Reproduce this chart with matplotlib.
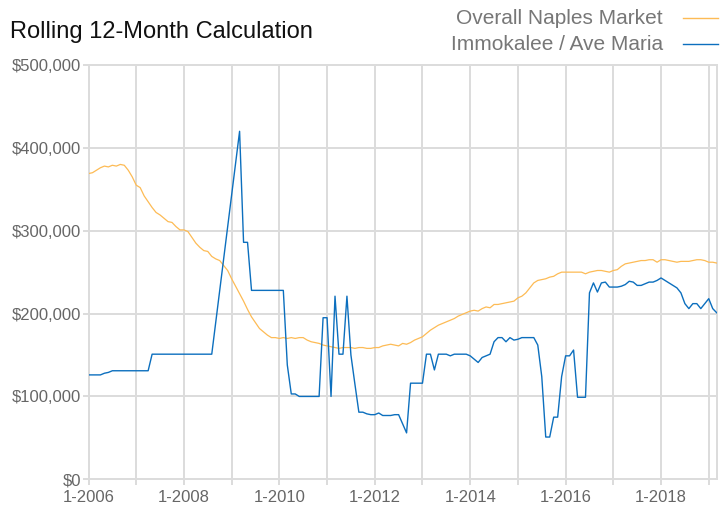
import numpy as np
import matplotlib.pyplot as plt
from matplotlib.lines import Line2D
from matplotlib.ticker import FuncFormatter, MultipleLocator

plt.rcParams['font.family'] = ['Liberation Sans', 'DejaVu Sans']

# monthly rolling 12-month values in $1000s, Jan 2006 .. Mar 2019
naples = [
    369, 370, 373, 376, 378, 377, 379, 378, 380, 379,
    373, 365, 355, 352, 342, 335, 328, 322, 319, 315,
    311, 310, 305, 301, 301, 299, 292, 285, 280, 276,
    275, 269, 266, 264, 258, 252, 242, 233, 224, 215,
    205, 196, 189, 182, 178, 174, 171, 171, 170, 171,
    170, 171, 170, 171, 171, 168, 166, 165, 164, 162,
    161, 160, 159, 158, 159, 159, 159, 158, 159, 159,
    158, 158, 159, 159, 161, 162, 163, 162, 161, 164,
    163, 165, 168, 170, 172, 176, 180, 183, 186, 188,
    190, 192, 194, 197, 199, 201, 203, 204, 203, 206,
    208, 207, 211, 211, 212, 213, 214, 215, 219, 221,
    225, 231, 237, 240, 241, 242, 244, 245, 248, 250,
    250, 250, 250, 250, 250, 248, 250, 251, 252, 252,
    251, 250, 252, 253, 257, 260, 261, 262, 263, 264,
    264, 265, 265, 262, 265, 265, 264, 263, 262, 263,
    263, 263, 264, 265, 265, 264, 262, 262, 261,
]

nan = np.nan
immokalee = [
    126, 126, 126, 126, 128, 129, 131, 131, 131, 131,
    131, 131, 131, 131, 131, 131, 151, 151, 151, 151,
    151, 151, 151, 151, 151, 151, 151, 151, 151, 151,
    151, 151, nan, nan, nan, nan, nan, nan, 420, 286,
    286, 228, 228, 228, 228, 228, 228, 228, 228, 228,
    138, 103, 103, 100, 100, 100, 100, 100, 100, 195,
    195, 100, 221, 151, 151, 221, 150, 115, 81, 81,
    79, 78, 78, 80, 77, 77, 77, 78, 78, 67,
    56, 116, 116, 116, 116, 151, 151, 132, 151, 151,
    151, 149, 151, 151, 151, 151, 149, 145, 141, 147,
    149, 151, 166, 171, 171, 166, 171, 168, 169, 171,
    171, 171, 171, 162, 124, 51, 51, 75, 75, 124,
    149, 149, 156, 99, 99, 99, 225, 237, 226, 237,
    238, 232, 232, 232, 233, 235, 239, 238, 234, 234,
    236, 238, 238, 240, 243, 240, 237, 234, 231, 225,
    212, 206, 212, 212, 206, 212, 218, 206, 201,
]

start_year = 2006
label_years = list(range(2006, 2019, 2))

months = np.arange(len(naples))
naples_v = np.array(naples, dtype=float) * 1000
imm_v = np.array(immokalee, dtype=float) * 1000
ok = ~np.isnan(imm_v)

grid_c = '#dcdcdc'
text_c = '#666666'
orange = '#fdbb55'
blue = '#0c6fbe'

fig = plt.figure(figsize=(7.27, 5.17), dpi=100)
ax = fig.add_axes([88.5 / 727, 1 - 479.3 / 517, (716.7 - 88.5) / 727, (479.3 - 65) / 517])

ax.plot(months, naples_v, color=orange, lw=0.9, zorder=3)
ax.plot(months[ok], imm_v[ok], color=blue, lw=1.0, zorder=4)

ax.set_xlim(0, len(naples) - 1)
ax.set_ylim(0, 500000)

ax.set_xticks([(y - start_year) * 12 for y in label_years])
ax.set_xticklabels([f'1-{y}' for y in label_years])
ax.set_xticks(np.arange(12, len(naples), 24), minor=True)
ax.yaxis.set_major_locator(MultipleLocator(100000))
ax.yaxis.set_major_formatter(FuncFormatter(lambda v, p: f'${v:,.0f}'))

ax.grid(True, which='both', color=grid_c, lw=1.4, zorder=0)
for s in ax.spines.values():
    s.set_color(grid_c)
    s.set_linewidth(1.4)
ax.tick_params(which='both', color=grid_c, width=1.4, length=4.5, labelsize=12,
               labelcolor=text_c)
ax.tick_params(axis='x', pad=3)
ax.tick_params(axis='y', pad=1)

fig.text(10 / 727, 1 - 32 / 517, 'Rolling 12-Month Calculation', fontsize=17,
         color='#111111', ha='left', va='center')

# legend drawn in figure space, text on the left of the swatch
for label, col, yy in [('Overall Naples Market', orange, 18),
                       ('Immokalee / Ave Maria', blue, 44)]:
    fig.text(663 / 727, 1 - yy / 517, label, fontsize=15, color='#777777',
             ha='right', va='center')
    fig.add_artist(Line2D([683 / 727, 718 / 727], [1 - yy / 517] * 2,
                          color=col, lw=1.0, transform=fig.transFigure))

fig.savefig('out.png', dpi=100)
